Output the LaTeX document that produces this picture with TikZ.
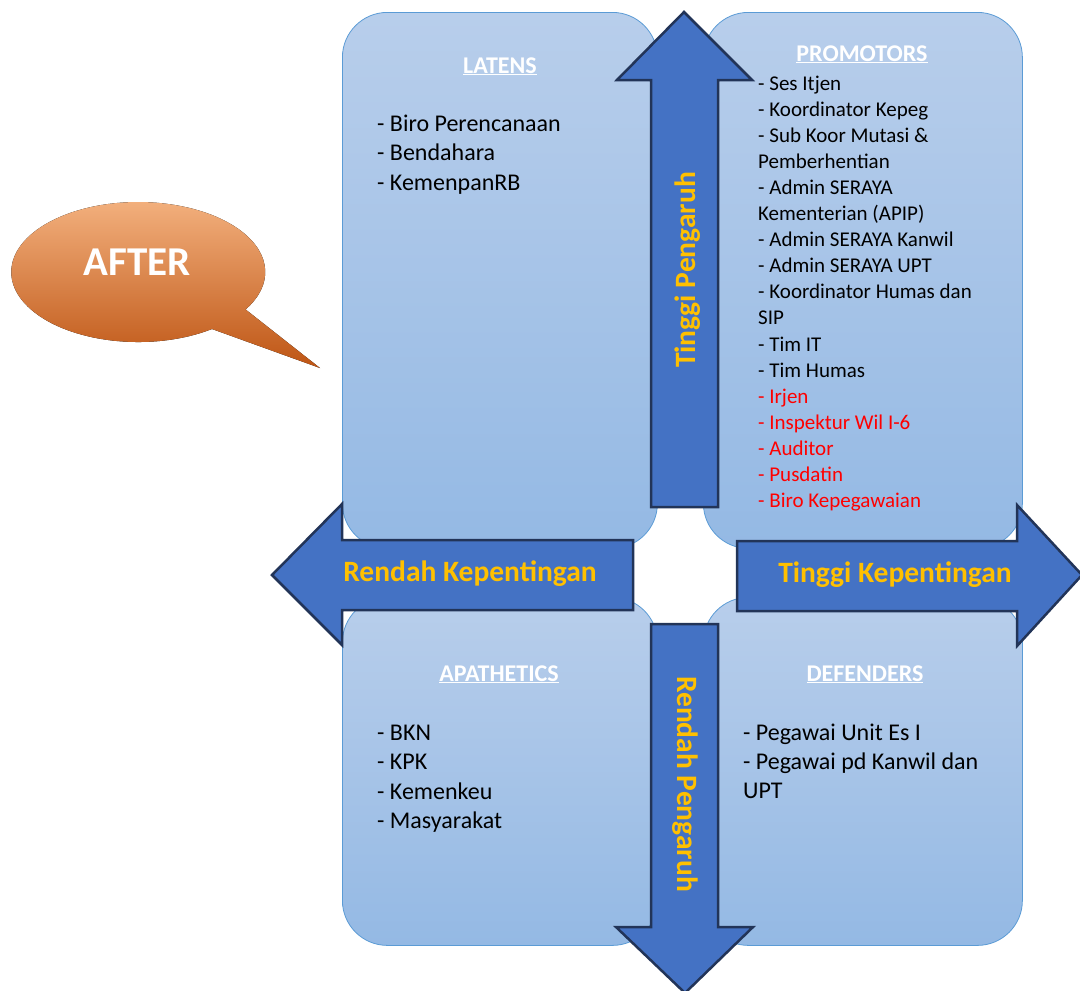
\documentclass[tikz,border=0pt]{standalone}
\usepackage{fontspec}
\setmainfont{Carlito}
\usepackage{tikz}

\definecolor{quadtop}{RGB}{184,206,235}
\definecolor{quadbot}{RGB}{148,185,228}
\definecolor{quadedge}{RGB}{91,155,213}
\definecolor{arrowfill}{RGB}{68,114,196}
\definecolor{arrowedge}{RGB}{34,52,88}
\definecolor{axisgold}{RGB}{255,192,0}
\definecolor{bubbletop}{RGB}{245,180,130}
\definecolor{bubblemid}{RGB}{237,125,49}
\definecolor{bubblebot}{RGB}{190,85,20}

\tikzset{x=1pt, y=-1pt,
  quad/.style={draw=quadedge, line width=0.8pt, rounded corners=45pt, top color=quadtop, bottom color=quadbot, anchor=north west},
  bigarrow/.style={draw=arrowedge, line width=2.5pt, fill=arrowfill, line join=miter},
  bubble/.style={top color=bubbletop, middle color=bubblemid, bottom color=bubblebot},
  head/.style={text=white, font=\bfseries\fontsize{24}{29}\selectfont, anchor=base, inner sep=0pt},
  item/.style={font=\fontsize{24}{29}\selectfont, anchor=base west, inner sep=0pt},
  promo/.style={item, font=\fontsize{21}{26}\selectfont},
  axis/.style={text=axisgold, font=\bfseries\fontsize{29.5}{35}\selectfont, anchor=base, inner sep=0pt}}

\begin{document}
\begin{tikzpicture}
    \useasboundingbox (0,0) rectangle (1080,991);

    % the four quadrants
    \node[quad, minimum width=315pt, minimum height=536pt] (latens) at (342,12) {};
    \node[quad, minimum width=319pt, minimum height=536pt] (promotors) at (703,12) {};
    \node[quad, minimum width=315pt, minimum height=348pt] (apathetics) at (342,597) {};
    \node[quad, minimum width=319pt, minimum height=348pt] (defenders) at (703,597) {};

    % axis arrows
    \draw[bigarrow] (651,507) -- (651,80) -- (617,80) -- (684,12) -- (752,80) -- (718,80) -- (718,507) -- cycle;
    \draw[bigarrow] (651,624) -- (718,624) -- (718,927) -- (753,927) -- (685,993) -- (616,927) -- (651,927) -- cycle;
    \draw[bigarrow] (633,540) -- (342,540) -- (342,504) -- (272,575) -- (342,645) -- (342,610) -- (633,610) -- cycle;
    \draw[bigarrow] (737,541) -- (1017,541) -- (1017,505) -- (1082,575) -- (1017,646) -- (1017,611) -- (737,611) -- cycle;

    \node[axis, rotate=90] (tinggiP) at (695,270) {Tinggi Pengaruh};
    \node[axis, rotate=-90] (rendahP) at (677,784) {Rendah Pengaruh};
    \node[axis] (rendahK) at (470,581) {Rendah Kepentingan};
    \node[axis] (tinggiK) at (895,582) {Tinggi Kepentingan};

    % speech bubble
    \fill[bubble] (245,309) -- (320,368) -- (212,329)
        arc[start angle=54.5, end angle=391.9, x radius=127, y radius=70] -- cycle;
    \node[text=white, font=\bfseries\fontsize{41}{48}\selectfont] (after) at (137,262) {AFTER};

    % headings
    \node[head] (hlat) at (500,73) {\underline{LATENS}};
    \node[head] (hpro) at (862,61) {\underline{PROMOTORS}};
    \node[head] (hapa) at (499,681) {\underline{APATHETICS}};
    \node[head] (hdef) at (865,681) {\underline{DEFENDERS}};

    % lists
    \foreach \t [count=\i from 0] in {{- Biro Perencanaan}, {- Bendahara}, {- KemenpanRB}}
        \node[item] (lat\i) at (377,131+29.5*\i) {\t};
    \foreach \t/\c [count=\i from 0] in {{- Ses Itjen}/black, {- Koordinator Kepeg}/black,
            {- Sub Koor Mutasi \&}/black, {Pemberhentian}/black, {- Admin SERAYA}/black,
            {Kementerian (APIP)}/black, {- Admin SERAYA Kanwil}/black, {- Admin SERAYA UPT}/black,
            {- Koordinator Humas dan}/black, {SIP}/black, {- Tim IT}/black, {- Tim Humas}/black,
            {- Irjen}/red, {- Inspektur Wil I-6}/red, {- Auditor}/red, {- Pusdatin}/red,
            {- Biro Kepegawaian}/red}
        \node[promo, text=\c] (pro\i) at (758,90+26.1*\i) {\t};
    \foreach \t [count=\i from 0] in {{- BKN}, {- KPK}, {- Kemenkeu}, {- Masyarakat}}
        \node[item] (apa\i) at (377,740+29.5*\i) {\t};
    \foreach \t [count=\i from 0] in {{- Pegawai Unit Es I}, {- Pegawai pd Kanwil dan}, {UPT}}
        \node[item] (def\i) at (743,740+29.3*\i) {\t};
\end{tikzpicture}
\end{document}
